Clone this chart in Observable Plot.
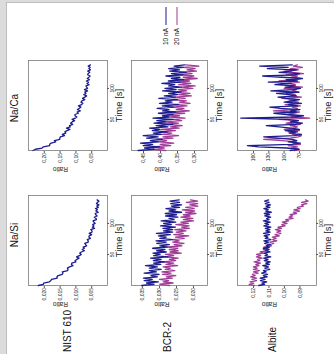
<!DOCTYPE html>
<html>
<head>
<meta charset="utf-8">
<script src="https://cdn.jsdelivr.net/npm/d3@7"></script>
<script src="https://cdn.jsdelivr.net/npm/@observablehq/plot@0.6"></script>
<style>
  html, body { margin: 0; padding: 0; width: 334px; height: 354px; overflow: hidden; background: #dcdcdc; }
  #fig { position: absolute; left: 0; top: 0; width: 354px; height: 334px;
         transform-origin: 0 0; transform: translateY(354px) rotate(-90deg);
         font-family: "Liberation Sans", Arial, sans-serif; color: #111; }
  #paper { position: absolute; left: 0; top: 6px; width: 352px; height: 328px; box-sizing: border-box;
           background: #fff; border-top: 1px solid #bdbdbd; border-right: 1px solid #bdbdbd; }
  .lbl { position: absolute; white-space: nowrap; line-height: 1; }
  .col { font-size: 10px; transform: translate(-50%, -50%); }
  .row { font-size: 10px; transform: translate(0, -50%); }
  .leg { font-size: 6.5px; transform: translate(-100%, -50%); }
  .legline { position: absolute; height: 0; border-top: 1.4px solid; width: 18px; transform: translateY(-50%); }
  svg { position: absolute; }
</style>
</head>
<body>
<div id="fig"><div id="paper"></div></div>
<script>
// ---------- data ----------
const time = [0,2,4,6,8,10,12,14,16,18,20,22,24,26,28,30,32,34,36,38,40,42,44,46,48,50,52,54,56,58,60,62,64,66,68,70,72,74,76,78,80,82,84,86,88,90,92,94,96,98,100,102,104,106,108,110,112,114,116,118,120,122,124,126,128,130,132,134,136,138];
const timeTicks = [50, 100];
const columns = ["Na/Si", "Na/Ca"];
const samples = ["NIST 610", "BCR-2", "Albite"];
const seriesNames = ["10 nA", "20 nA"];

const nistSi10 = [0.0219,0.0203,0.0202,0.0184,0.0179,0.0177,0.0159,0.0160,0.0156,0.0143,
0.0141,0.0143,0.0126,0.0125,0.0127,0.0120,0.0109,0.0114,0.0113,0.0100,
0.0103,0.0097,0.0090,0.0098,0.0089,0.0083,0.0088,0.0083,0.0073,0.0080,
0.0073,0.0077,0.0066,0.0069,0.0072,0.0061,0.0061,0.0064,0.0054,0.0059,
0.0058,0.0050,0.0058,0.0049,0.0049,0.0053,0.0041,0.0048,0.0043,0.0047,
0.0039,0.0043,0.0046,0.0035,0.0036,0.0042,0.0033,0.0037,0.0039,0.0029,
0.0037,0.0032,0.0038,0.0029,0.0034,0.0027,0.0035,0.0031,0.0027,0.0033];
const nistCa10 = [0.236,0.228,0.207,0.203,0.183,0.183,0.178,0.164,0.168,0.151,
0.151,0.149,0.136,0.143,0.132,0.135,0.128,0.119,0.130,0.118,
0.120,0.110,0.117,0.112,0.104,0.112,0.102,0.097,0.103,0.103,
0.092,0.096,0.086,0.095,0.089,0.084,0.092,0.082,0.078,0.084,
0.081,0.072,0.079,0.072,0.066,0.075,0.068,0.072,0.063,0.073,
0.063,0.066,0.068,0.058,0.065,0.060,0.067,0.057,0.064,0.059,
0.055,0.063,0.061,0.056,0.063,0.054,0.059,0.055,0.061,0.054];
const bcrSi10 = [0.0352,0.0316,0.0338,0.0303,0.0345,0.0321,0.0347,0.0306,0.0325,0.0301,
0.0345,0.0309,0.0330,0.0295,0.0330,0.0306,0.0341,0.0296,0.0317,0.0285,
0.0318,0.0295,0.0326,0.0275,0.0317,0.0298,0.0319,0.0280,0.0308,0.0284,
0.0320,0.0277,0.0299,0.0271,0.0308,0.0280,0.0310,0.0262,0.0299,0.0280,
0.0303,0.0268,0.0309,0.0261,0.0288,0.0261,0.0290,0.0253,0.0297,0.0265,
0.0288,0.0252,0.0295,0.0257,0.0272,0.0246,0.0282,0.0250,0.0283,0.0235,
0.0272,0.0252,0.0281,0.0241,0.0265,0.0235,0.0267,0.0241,0.0269,0.0242];
const bcrSi20 = [0.0270,0.0299,0.0260,0.0289,0.0273,0.0300,0.0262,0.0280,0.0252,0.0291,
0.0266,0.0293,0.0255,0.0283,0.0268,0.0289,0.0247,0.0281,0.0258,0.0291,
0.0252,0.0271,0.0245,0.0281,0.0258,0.0283,0.0236,0.0269,0.0245,0.0271,
0.0246,0.0276,0.0234,0.0257,0.0228,0.0261,0.0242,0.0262,0.0227,0.0253,
0.0214,0.0258,0.0230,0.0251,0.0222,0.0255,0.0212,0.0235,0.0213,0.0252,
0.0215,0.0237,0.0200,0.0230,0.0202,0.0237,0.0210,0.0230,0.0193,0.0223,
0.0197,0.0233,0.0198,0.0223,0.0187,0.0211,0.0188,0.0221,0.0188,0.0209];
const bcrCa10 = [0.466,0.419,0.447,0.403,0.451,0.423,0.459,0.405,0.430,0.395,
0.441,0.407,0.451,0.397,0.421,0.381,0.424,0.402,0.432,0.378,
0.413,0.364,0.419,0.385,0.411,0.363,0.422,0.374,0.394,0.363,
0.406,0.355,0.394,0.375,0.410,0.362,0.395,0.347,0.403,0.366,
0.386,0.350,0.405,0.356,0.389,0.350,0.376,0.340,0.394,0.354,
0.387,0.339,0.376,0.358,0.396,0.342,0.377,0.332,0.368,0.343,
0.384,0.334,0.368,0.324,0.373,0.344,0.376,0.333,0.360,0.329];
const bcrCa20 = [0.385,0.423,0.389,0.425,0.370,0.401,0.361,0.404,0.382,0.411,
0.363,0.393,0.347,0.395,0.367,0.397,0.356,0.399,0.345,0.371,
0.336,0.380,0.347,0.390,0.338,0.363,0.328,0.371,0.344,0.378,
0.329,0.361,0.315,0.354,0.331,0.368,0.322,0.358,0.313,0.345,
0.324,0.365,0.327,0.358,0.309,0.347,0.313,0.363,0.323,0.348,
0.305,0.339,0.298,0.347,0.311,0.351,0.315,0.340,0.292,0.333,
0.302,0.342,0.307,0.345,0.294,0.322,0.298,0.333,0.287,0.326];
const albSi10 = [0.1165,0.1128,0.1146,0.1114,0.1155,0.1125,0.1157,0.1111,0.1137,0.1109,
0.1147,0.1118,0.1136,0.1095,0.1127,0.1103,0.1140,0.1097,0.1121,0.1092,
0.1130,0.1106,0.1134,0.1088,0.1126,0.1110,0.1132,0.1093,0.1122,0.1099,
0.1137,0.1096,0.1118,0.1091,0.1128,0.1102,0.1133,0.1087,0.1124,0.1106,
0.1131,0.1097,0.1135,0.1092,0.1120,0.1094,0.1124,0.1088,0.1133,0.1102,
0.1126,0.1092,0.1136,0.1099,0.1115,0.1089,0.1127,0.1096,0.1130,0.1085,
0.1121,0.1103,0.1133,0.1094,0.1119,0.1090,0.1124,0.1099,0.1128,0.1102];
const albSi20 = [0.1195,0.1228,0.1198,0.1222,0.1180,0.1210,0.1180,0.1218,0.1189,0.1207,
0.1170,0.1200,0.1162,0.1200,0.1176,0.1201,0.1164,0.1185,0.1155,0.1196,
0.1159,0.1173,0.1144,0.1181,0.1153,0.1180,0.1136,0.1157,0.1111,0.1136,
0.1108,0.1133,0.1084,0.1099,0.1069,0.1094,0.1049,0.1076,0.1053,0.1078,
0.1033,0.1061,0.1023,0.1049,0.1023,0.1058,0.1019,0.1042,0.0996,0.1017,
0.0983,0.1014,0.0973,0.0992,0.0944,0.0970,0.0947,0.0964,0.0922,0.0942,
0.0902,0.0939,0.0899,0.0917,0.0878,0.0891,0.0855,0.0889,0.0847,0.0864];
const albCa10 = [88,72,95,150,172,85,68,92,75,84,
112,140,80,66,90,74,98,70,86,110,
135,78,64,88,72,95,185,80,62,96,
120,76,88,69,108,128,74,92,66,100,
84,70,96,112,76,90,115,72,126,82,
68,98,78,118,86,131,74,96,64,104,
142,80,70,110,88,76,133,92,148,84];
const albCa20 = [80,70,86,74,92,68,82,76,104,140,
88,72,66,84,78,92,70,100,82,74,
88,68,96,80,72,110,50,86,76,94,
82,70,121,88,74,84,68,98,80,72,
90,76,104,66,86,78,95,70,84,76,
100,64,88,78,92,70,110,80,68,86,
74,96,62,84,100,72,88,64,82,74];

const nistSiTicks = [0.005, 0.010, 0.015, 0.020];
const nistCaTicks = [0.05, 0.10, 0.15, 0.20];
const bcrSiTicks = [0.020, 0.025, 0.030, 0.035];
const bcrCaTicks = [0.30, 0.35, 0.40, 0.45];
const albSiTicks = [0.09, 0.10, 0.11, 0.12];
const albCaTicks = [70, 100, 130, 160];

// ---------- style / layout ----------
const BLUE = "#1d1d8e", PURPLE = "#a03c98";
const FONT = "'Liberation Sans', Arial, sans-serif";
const ML = 40, MR = 4, MT = 4, MB = 28, PW = 90;
const colX = {"Na/Si": 68, "Na/Ca": 203};
const rowY = {"NIST 610": [28, 79], "BCR-2": [131, 76], "Albite": [237, 79]};

const panels = [
  {row: "NIST 610", col: "Na/Si", dom: [0, 0.025], ticks: nistSiTicks, dec: 3, s10: nistSi10, s20: null},
  {row: "NIST 610", col: "Na/Ca", dom: [0, 0.25], ticks: nistCaTicks, dec: 2, s10: nistCa10, s20: null},
  {row: "BCR-2", col: "Na/Si", dom: [0.0159, 0.0382], ticks: bcrSiTicks, dec: 3, s10: bcrSi10, s20: bcrSi20},
  {row: "BCR-2", col: "Na/Ca", dom: [0.2618, 0.4853], ticks: bcrCaTicks, dec: 2, s10: bcrCa10, s20: bcrCa20},
  {row: "Albite", col: "Na/Si", dom: [0.0793, 0.1303], ticks: albSiTicks, dec: 2, s10: albSi10, s20: albSi20},
  {row: "Albite", col: "Na/Ca", dom: [36.5, 191.4], ticks: albCaTicks, dec: 0, s10: albCa10, s20: albCa20}
];

const fig = document.getElementById("fig");
const toRows = (vals) => time.map((t, i) => ({t, v: vals[i]}));

for (const p of panels) {
  const [top, h] = rowY[p.row];
  const left = colX[p.col];
  const fmt = d => d.toFixed(p.dec).replace(".", ",");
  const marks = [
    Plot.frame({stroke: "#7a7a7a", strokeWidth: 0.8}),
    Plot.axisX({ticks: timeTicks, tickSize: 2, tickPadding: 0.5, fontSize: 5, label: null, stroke: "#555"}),
    Plot.axisY({ticks: p.ticks, tickSize: 2, tickPadding: 0.5, fontSize: 5, label: null, tickFormat: fmt, stroke: "#555"})
  ];
  if (p.s20) marks.push(Plot.line(toRows(p.s20), {x: "t", y: "v", stroke: PURPLE, strokeWidth: 1.3}));
  marks.push(Plot.line(toRows(p.s10), {x: "t", y: "v", stroke: BLUE, strokeWidth: 1.3}));
  marks.push(Plot.text(["Time [s]"], {text: d => d, frameAnchor: "bottom", dy: 14, fontSize: 9.5, fill: "#222"}));
  marks.push(Plot.text(["Ratio"], {text: d => d, frameAnchor: "left", dx: -19, rotate: -90, fontSize: 6.5, fill: "#222"}));
  const svg = Plot.plot({
    width: ML + PW + MR, height: MT + h + MB,
    marginLeft: ML, marginRight: MR, marginTop: MT, marginBottom: MB,
    style: {background: "transparent", fontFamily: FONT, color: "#222", overflow: "visible"},
    x: {domain: [0, 145]},
    y: {domain: p.dom},
    marks
  });
  svg.style.left = (left - ML) + "px";
  svg.style.top = (top - MT) + "px";
  fig.appendChild(svg);
}

// column titles
const colTitleX = {"Na/Si": 119, "Na/Ca": 246};
for (const c of columns) {
  const d = document.createElement("div");
  d.className = "lbl col"; d.textContent = c;
  d.style.left = colTitleX[c] + "px"; d.style.top = "15px";
  fig.appendChild(d);
}
// row labels
const rowLabelY = {"NIST 610": 68, "BCR-2": 168, "Albite": 273};
for (const r of samples) {
  const d = document.createElement("div");
  d.className = "lbl row"; d.textContent = r;
  d.style.left = "2px"; d.style.top = rowLabelY[r] + "px";
  fig.appendChild(d);
}
// legend
const legY = [166, 177], legCol = [BLUE, PURPLE];
seriesNames.forEach((s, i) => {
  const t = document.createElement("div");
  t.className = "lbl leg"; t.textContent = s;
  t.style.left = "326px"; t.style.top = legY[i] + "px";
  fig.appendChild(t);
  const l = document.createElement("div");
  l.className = "legline"; l.style.borderColor = legCol[i];
  l.style.left = "329px"; l.style.top = legY[i] + "px";
  fig.appendChild(l);
});
</script>
</body>
</html>
